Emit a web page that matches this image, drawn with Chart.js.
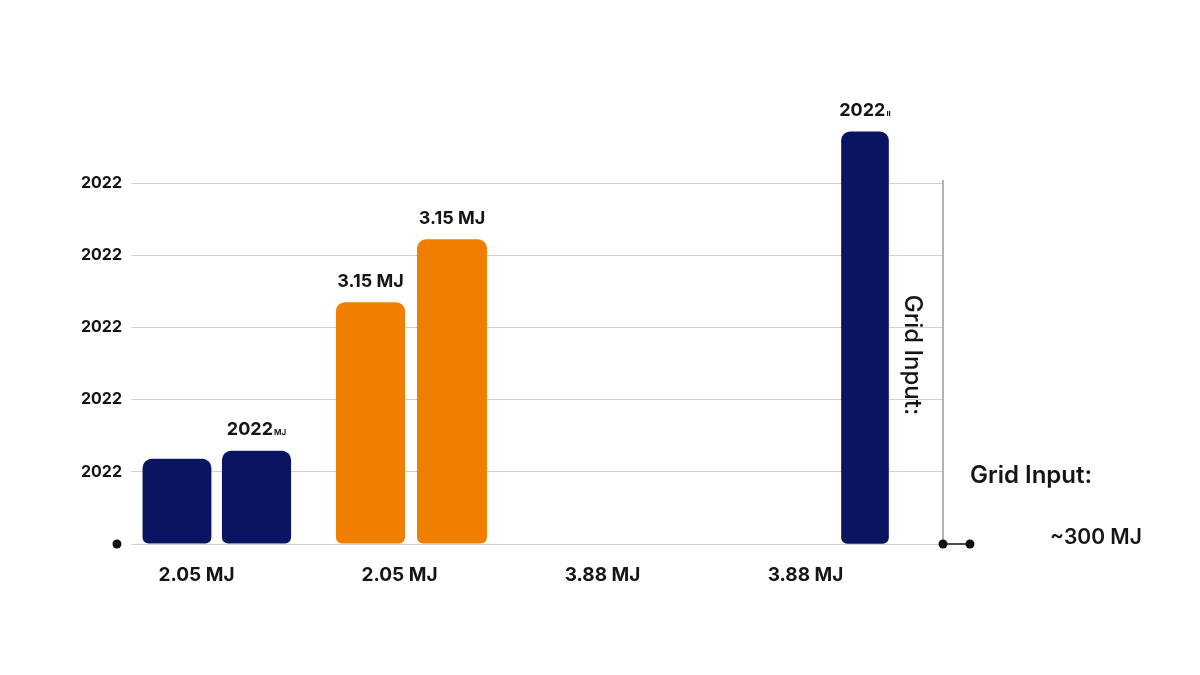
<!DOCTYPE html>
<html>
<head>
<meta charset="utf-8">
<script src="https://cdn.jsdelivr.net/npm/chart.js@4.4.1/dist/chart.umd.min.js"></script>
<style>
  html, body { margin: 0; padding: 0; background: #ffffff; }
  #wrap { width: 1200px; height: 675px; position: relative; }
</style>
</head>
<body>
<div id="wrap"><canvas id="c"></canvas></div>
<script>
// ---- data ----
const categories = ['2.05 MJ', '2.05 MJ', '3.88 MJ', '3.88 MJ'];
const navyFirst    = [1.18, null, null, null];
const navySecond   = [1.29, null, null, null];
const orangeFirst  = [null, 3.35, null, null];
const orangeSecond = [null, 4.22, null, null];
const navyTall     = [null, null, null, 5.71];
const yTickLabels  = ['', '2022', '2022', '2022', '2022', '2022'];
const navyFirstLabels    = [null, null, null, null];
const navySecondLabels   = [['2022', 'MJ'], null, null, null];
const orangeFirstLabels  = [null, ['3.15 MJ', ''], null, null];
const orangeSecondLabels = [null, ['3.15 MJ', ''], null, null];
const navyTallLabels     = [null, null, null, ['2022', 'ıı']];
const sideTitle = 'Grid Input:';
const sideNote = 'Grid Input:';
const sideValue = '~300 MJ';

const NAVY = '#0b1461';
const ORANGE = '#f07f00';
const FONT = "Inter, 'Noto Sans', 'DejaVu Sans', sans-serif";
const TEXT = '#151515';

const radius = { topLeft: 9, topRight: 9, bottomLeft: 6, bottomRight: 6 };
function ds(data, color, labels, extra) {
  return Object.assign({
    data: data,
    backgroundColor: color,
    borderRadius: radius,
    borderSkipped: false,
    clip: false,
    valueLabels: labels
  }, extra || {});
}

const labelPlugin = {
  id: 'valueLabels',
  afterDatasetsDraw(chart) {
    const ctx = chart.ctx;
    chart.data.datasets.forEach((d, di) => {
      const meta = chart.getDatasetMeta(di);
      (d.valueLabels || []).forEach((lab, i) => {
        if (!lab) return;
        const el = meta.data[i];
        if (!el) return;
        ctx.save();
        ctx.fillStyle = TEXT;
        ctx.textBaseline = 'middle';
        ctx.font = '700 18px ' + FONT;
        const w1 = ctx.measureText(lab[0]).width;
        ctx.font = '700 8px ' + FONT;
        const w2 = lab[1] ? ctx.measureText(lab[1]).width + 1 : 0;
        const x0 = el.x - (w1 + w2) / 2;
        const y = el.y - 21;
        ctx.font = '700 18px ' + FONT;
        ctx.textAlign = 'left';
        ctx.fillText(lab[0], x0, y);
        if (lab[1]) {
          ctx.font = '700 8px ' + FONT;
          ctx.fillText(lab[1], x0 + w1 + 1, y + 3);
        }
        ctx.restore();
      });
    });
  }
};

const decorPlugin = {
  id: 'decor',
  afterDraw(chart) {
    const ctx = chart.ctx;
    const a = chart.chartArea;
    ctx.save();
    // right vertical border
    ctx.strokeStyle = '#9a9a9a';
    ctx.lineWidth = 1.5;
    ctx.beginPath();
    ctx.moveTo(a.right, a.top - 3);
    ctx.lineTo(a.right, a.bottom);
    ctx.stroke();
    // connector at bottom right
    ctx.strokeStyle = '#111';
    ctx.lineWidth = 1.5;
    ctx.beginPath();
    ctx.moveTo(a.right, a.bottom);
    ctx.lineTo(a.right + 27, a.bottom);
    ctx.stroke();
    ctx.fillStyle = '#111';
    [a.left - 14, a.right, a.right + 27].forEach(x => {
      ctx.beginPath();
      ctx.arc(x, a.bottom, 4.5, 0, Math.PI * 2);
      ctx.fill();
    });
    // rotated side title
    ctx.fillStyle = TEXT;
    ctx.font = '500 24px ' + FONT;
    ctx.textAlign = 'center';
    ctx.textBaseline = 'middle';
    ctx.save();
    ctx.translate(a.right - 31, a.top + 172);
    ctx.rotate(Math.PI / 2);
    ctx.fillText(sideTitle, 0, 0);
    ctx.restore();
    // side note texts
    ctx.textAlign = 'left';
    ctx.font = '600 24px ' + FONT;
    ctx.fillText(sideNote, a.right + 27, a.bottom - 68);
    ctx.font = '600 21px ' + FONT;
    ctx.fillText(sideValue, a.right + 107, a.bottom - 6);
    ctx.restore();
  }
};

new Chart(document.getElementById('c'), {
  type: 'bar',
  data: {
    labels: categories,
    datasets: [
      ds(navyFirst, NAVY, navyFirstLabels, { stack: 'left', categoryPercentage: 1.094, barPercentage: 0.62 }),
      ds(navySecond, NAVY, navySecondLabels, { stack: 'right', categoryPercentage: 0.473, barPercentage: 1.44 }),
      ds(orangeFirst, ORANGE, orangeFirstLabels, { stack: 'left', categoryPercentage: 1.281, barPercentage: 0.531 }),
      ds(orangeSecond, ORANGE, orangeSecondLabels, { stack: 'right', categoryPercentage: 0.325, barPercentage: 2.12 }),
      ds(navyTall, NAVY, navyTallLabels, { stack: 'right', barThickness: 47 })
    ]
  },
  options: {
    responsive: true,
    maintainAspectRatio: false,
    animation: false,
    layout: { padding: { top: 183, right: 257, bottom: 0, left: 0 } },
    plugins: { legend: { display: false }, tooltip: { enabled: false } },
    scales: {
      x: {
        grid: { display: false, drawTicks: false },
        border: { display: false },
        ticks: {
          color: TEXT,
          font: { family: FONT, size: 19, weight: '700' },
          padding: 20,
          labelOffset: -36,
          maxRotation: 0
        },
        afterFit: (s) => { s.height = 131; }
      },
      y: {
        min: 0,
        max: 5,
        stacked: false,
        grid: { color: '#d0d0d0', lineWidth: 1, drawTicks: false },
        border: { display: false },
        ticks: {
          stepSize: 1,
          color: TEXT,
          font: { family: FONT, size: 16, weight: '700' },
          padding: 9,
          callback: (v, i) => yTickLabels[i]
        },
        afterFit: (s) => { s.width = 131; }
      }
    }
  },
  plugins: [labelPlugin, decorPlugin]
});
</script>
</body>
</html>
